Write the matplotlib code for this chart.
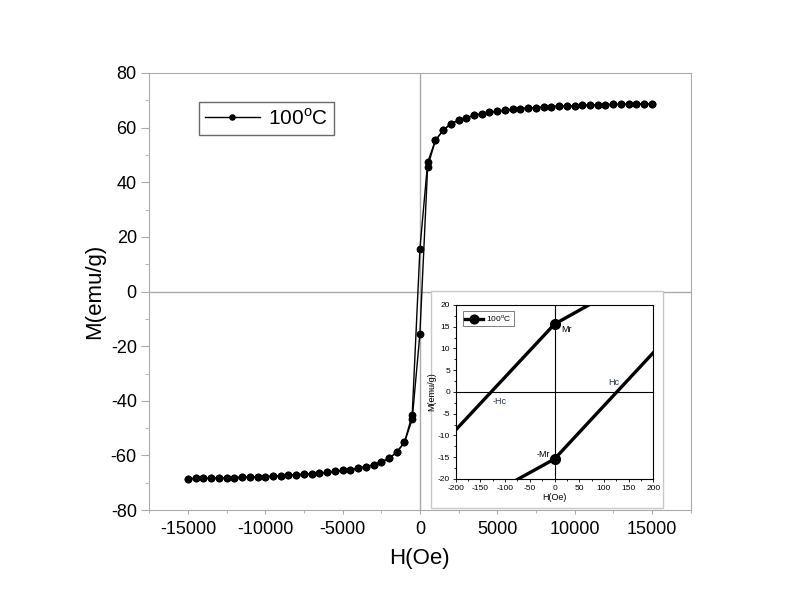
import numpy as np
import matplotlib.pyplot as plt
from matplotlib.patches import Rectangle
from matplotlib.ticker import MultipleLocator

plt.rcParams['font.family'] = ['Liberation Sans', 'DejaVu Sans']
plt.rcParams['axes.unicode_minus'] = False

# Field grid (Oe) and magnetization (emu/g)
h_high = [1000, 1500, 2000, 2500, 3000, 3500, 4000, 4500, 5000, 5500,
          6000, 6500, 7000, 7500, 8000, 8500, 9000, 9500, 10000, 10500,
          11000, 11500, 12000, 12500, 13000, 13500, 14000, 14500, 15000]
m_high = [55.3, 59.0, 61.4, 62.7, 63.6, 64.5, 65.1, 65.6, 66.0, 66.4,
          66.7, 66.9, 67.2, 67.3, 67.5, 67.7, 67.8, 67.9, 68.0, 68.1,
          68.2, 68.3, 68.4, 68.5, 68.5, 68.6, 68.6, 68.7, 68.8]
m_low = [-55.2, -58.8, -61.1, -62.3, -63.4, -64.1, -64.7, -65.2, -65.5, -65.8,
         -66.2, -66.5, -66.7, -66.9, -67.1, -67.3, -67.4, -67.6, -67.7, -67.8,
         -67.9, -68.0, -68.1, -68.2, -68.3, -68.3, -68.4, -68.4, -68.5]

# points around zero field
h_mid = [500, 0, -500]
m_mid_down = [47.3, 15.6, -45.2]
m_mid_up = [45.7, -15.4, -46.8]

label = '100$^\\mathregular{o}$C'

# descending branch (+15000 -> -15000), ascending branch (-15000 -> +15000)
h_down = np.array(h_high[::-1] + h_mid + [-h for h in h_high])
m_down = np.array(m_high[::-1] + m_mid_down + m_low)
h_up = np.array([-h for h in h_high][::-1] + h_mid[::-1] + h_high)
m_up = np.array(m_low[::-1] + m_mid_up[::-1] + m_high)

fig = plt.figure(figsize=(7.86, 6.08), dpi=100)
ax = fig.add_axes([0.19, 0.161, 0.6885, 0.719])

gray = '#aaaaaa'
ax.plot(h_down, m_down, color='black', lw=1, marker='o', ms=4.6, label=label)
ax.plot(h_up, m_up, color='black', lw=1, marker='o', ms=4.6)
ax.axhline(0, color=gray, lw=1, zorder=0)
ax.axvline(0, color=gray, lw=1, zorder=0)

ax.set_xlim(-17500, 17500)
ax.set_ylim(-80, 80)
ax.xaxis.set_major_locator(MultipleLocator(5000))
ax.xaxis.set_minor_locator(MultipleLocator(2500))
ax.yaxis.set_major_locator(MultipleLocator(20))
ax.yaxis.set_minor_locator(MultipleLocator(10))
for s in ax.spines.values():
    s.set_color(gray)
ax.tick_params(axis='y', which='major', length=6, color=gray, labelsize=13, pad=3)
ax.tick_params(axis='y', which='minor', length=3, color=gray)
ax.tick_params(axis='x', which='major', length=3, color=gray, labelsize=13, pad=5)
ax.tick_params(axis='x', which='minor', length=2, color=gray)
ax.set_xlabel('H(Oe)', fontsize=16, labelpad=7)
ax.set_ylabel('M(emu/g)', fontsize=16, labelpad=4)

leg = ax.legend(loc='upper left', bbox_to_anchor=(0.092, 0.934), borderaxespad=0,
                fontsize=15, fancybox=False, handlelength=2.6, handletextpad=0.4,
                borderpad=0.3, markerscale=0.8)
leg.get_frame().set_edgecolor('#444444')
leg.get_frame().set_linewidth(1)

# framed box behind the inset
fig.patches.append(Rectangle((0.548, 0.1645), 0.2955, 0.357, transform=fig.transFigure,
                             facecolor='white', edgecolor='#c8c8c8', lw=1, zorder=1))

# inset: zoom around the origin
ins = fig.add_axes([0.5798, 0.2122, 0.2514, 0.2862])
ins.set_zorder(2)
ins.plot(h_down, m_down, color='black', lw=2.4, marker='o', ms=7, label=label)
ins.plot(h_up, m_up, color='black', lw=2.4, marker='o', ms=7)
ins.axhline(0, color='black', lw=0.8, zorder=0)
ins.axvline(0, color='black', lw=0.8, zorder=0)
ins.set_xlim(-200, 200)
ins.set_ylim(-20, 20)
ins.xaxis.set_major_locator(MultipleLocator(50))
ins.xaxis.set_minor_locator(MultipleLocator(25))
ins.yaxis.set_major_locator(MultipleLocator(5))
ins.yaxis.set_minor_locator(MultipleLocator(2.5))
ins.tick_params(which='major', length=2.5, width=0.6, labelsize=6, pad=1.5)
ins.tick_params(which='minor', length=1.5, width=0.6)
for s in ins.spines.values():
    s.set_linewidth(0.8)
ins.set_xlabel('H(Oe)', fontsize=6.5, labelpad=1)
ins.set_ylabel('M(emu/g)', fontsize=6.5, labelpad=1)

ins.text(25, 14.3, 'Mr', fontsize=6.5, ha='center', va='center')
ins.text(-23, -14.4, '-Mr', fontsize=6.5, ha='center', va='center')
ins.text(120, 2.2, 'Hc', fontsize=6.5, ha='center', va='center', color='#1f3060')
ins.text(-112, -2.3, '-Hc', fontsize=6.5, ha='center', va='center', color='#1f3060')

ileg = ins.legend(loc='upper left', bbox_to_anchor=(0.035, 0.967), borderaxespad=0,
                  fontsize=6, fancybox=False, handlelength=2.2, handletextpad=0.3,
                  borderpad=0.3, markerscale=0.9)
ileg.get_frame().set_edgecolor('#444444')
ileg.get_frame().set_linewidth(0.6)

fig.savefig('out.png', dpi=100)
